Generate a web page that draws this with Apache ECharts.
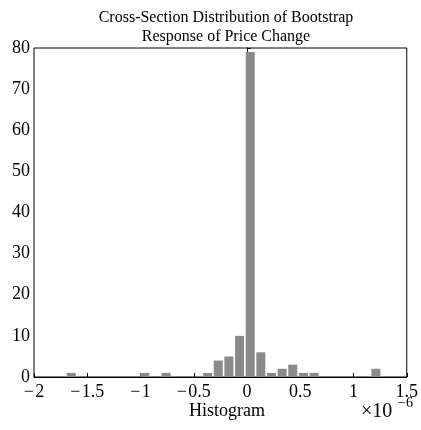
<!DOCTYPE html>
<html><head><meta charset="utf-8">
<script src="https://cdn.jsdelivr.net/npm/echarts@6/dist/echarts.min.js"></script>
<style>html,body{margin:0;padding:0;background:#fff}#c{width:421px;height:430px}</style>
</head><body><div id="c"></div>
<script>
const titleLines = ['Cross-Section Distribution of Bootstrap', 'Response of Price Change'];
const xLabel = 'Histogram';
const binCenters = [-1.65, -0.96, -0.76, -0.37, -0.27, -0.17, -0.07, 0.03, 0.13, 0.23, 0.33, 0.43, 0.53, 0.63, 1.21];
const counts = [1, 1, 1, 1, 4, 5, 10, 79, 6, 1, 2, 3, 1, 1, 2];
const xTicks = [-2, -1.5, -1, -0.5, 0, 0.5, 1, 1.5];
const yTicks = [0, 10, 20, 30, 40, 50, 60, 70, 80];
const scaleBase = '\u00d710';
const scaleExp = '\u22126';

const font = 'Liberation Serif';
const chart = echarts.init(document.getElementById('c'), null, {renderer: 'canvas'});
const fmt = v => String(v).replace('-', '\u2212\u200a');
chart.setOption({
  animation: false,
  backgroundColor: '#fff',
  grid: {left: 34, right: 13, top: 48, bottom: 53, show: true, borderColor: '#000', borderWidth: 1},
  title: {
    text: titleLines.join('\n'), left: 221, textAlign: 'center', top: 3,
    textStyle: {fontFamily: font, fontSize: 16, fontWeight: 'normal', color: '#000', lineHeight: 19}
  },
  xAxis: {
    type: 'value', min: xTicks[0], max: xTicks[xTicks.length - 1], interval: 0.5,
    axisLine: {lineStyle: {color: '#000', width: 1}},
    axisTick: {inside: true, length: 4, lineStyle: {color: '#000'}},
    splitLine: {show: false},
    axisLabel: {fontFamily: font, fontSize: 18, color: '#000', margin: 6, formatter: fmt}
  },
  yAxis: {
    type: 'value', min: yTicks[0], max: yTicks[yTicks.length - 1], interval: 10,
    axisLine: {show: true, lineStyle: {color: '#000', width: 1}},
    axisTick: {show: true, inside: true, length: 4, lineStyle: {color: '#000'}},
    splitLine: {show: false},
    axisLabel: {fontFamily: font, fontSize: 18, color: '#000', margin: 4}
  },
  series: [{
    type: 'bar', barWidth: 9,
    data: binCenters.map((x, i) => [x, counts[i]]),
    itemStyle: {color: '#8a8a8a'}
  }],
  graphic: [
    {type: 'text', left: 189, top: 402, style: {text: xLabel, font: '18px "Liberation Serif"', fill: '#000'}},
    {type: 'text', left: 361, top: 402, style: {text: scaleBase, font: '20px "Liberation Serif"', fill: '#000'}},
    {type: 'text', left: 398, top: 396, style: {text: scaleExp, font: '14px "Liberation Serif"', fill: '#000'}}
  ]
});
</script></body></html>
